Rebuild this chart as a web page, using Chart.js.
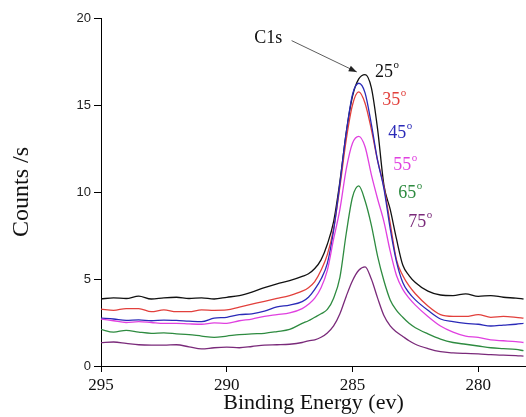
<!DOCTYPE html>
<html><head><meta charset="utf-8">
<script src="https://cdn.jsdelivr.net/npm/chart.js@4"></script>
<style>html,body{margin:0;padding:0;background:#fff;}canvas{display:block;}</style>
</head><body>
<canvas id="c" width="526" height="417"></canvas>
<script>
// ---- data ----
const energies = [295,294.5,294,293.5,293,292.5,292,291.5,291,290.5,290,289.5,289,288.5,288,287.5,287,
  286.75,286.5,286.25,286,285.75,285.5,285.25,285,284.75,284.5,284.25,284,283.75,283.5,283.25,283,282.75,282.5,
  282,281.5,281,280.5,280,279.5,279,278.5,278.2];
const counts25 = [3.85,3.92,3.88,4.02,3.85,3.92,3.95,3.88,3.92,3.85,3.95,4.05,4.25,4.5,4.72,4.9,5.15,
  5.3,5.6,6.1,7.0,8.3,10.6,13.4,15.5,16.5,16.75,16.0,13.6,10.4,9.0,7.3,5.8,5.2,4.8,
  4.3,4.08,4.05,4.15,4.0,4.05,3.95,3.9,3.85];
const counts35 = [3.27,3.2,3.3,3.3,3.12,3.22,3.12,3.12,3.22,3.2,3.22,3.38,3.55,3.72,3.88,4.05,4.3,
  4.5,4.85,5.5,6.4,7.9,10.3,13.0,15.0,15.75,15.1,13.6,11.8,10.3,8.2,6.1,5.2,4.6,4.15,
  3.45,2.95,2.85,2.85,2.95,2.8,2.85,2.8,2.75];
const counts45 = [2.75,2.7,2.62,2.65,2.6,2.64,2.62,2.58,2.55,2.75,2.8,2.95,3.0,3.15,3.4,3.5,3.7,
  3.95,4.4,5.0,5.9,7.8,10.5,13.4,15.6,16.25,15.7,13.9,11.8,10.2,7.9,6.0,4.8,4.2,3.8,
  3.2,2.7,2.55,2.45,2.4,2.3,2.35,2.4,2.45];
const counts55 = [2.7,2.6,2.5,2.55,2.5,2.45,2.45,2.42,2.4,2.48,2.45,2.6,2.7,2.85,2.95,3.05,3.3,
  3.55,3.9,4.5,5.5,7.3,9.0,11.3,12.8,13.2,12.6,11.0,9.6,8.3,6.6,5.2,4.4,3.9,3.5,
  2.85,2.3,1.95,1.72,1.65,1.5,1.45,1.4,1.35];
const counts65 = [2.1,1.95,2.05,1.95,1.88,1.9,1.85,1.8,1.72,1.65,1.72,1.8,1.85,1.88,1.98,2.1,2.45,
  2.6,2.8,3.0,3.25,3.9,5.1,7.6,9.7,10.35,9.5,8.1,6.3,4.9,3.8,3.2,2.8,2.45,2.2,
  1.85,1.55,1.35,1.25,1.15,1.05,1.0,0.95,0.88];
const counts75 = [1.34,1.38,1.3,1.22,1.2,1.2,1.22,1.1,0.98,1.05,1.08,1.05,1.12,1.2,1.22,1.25,1.35,
  1.45,1.5,1.65,1.9,2.3,3.0,4.0,4.9,5.5,5.7,5.0,3.9,2.9,2.3,1.95,1.7,1.45,1.25,
  1.0,0.82,0.75,0.72,0.7,0.65,0.62,0.6,0.57];
const angleLabels = ['25','35','45','55','65','75'];
const xTicks = [295,290,285,280];
const yTicks = [0,5,10,15,20];

// ---- styling ----
const colors = ['#111111','#e2403c','#2a2ab8','#e040e0','#2e8b40','#7a2a7a'];
const series = [counts25,counts35,counts45,counts55,counts65,counts75];
// label anchors in data units (energy, counts)
const labelAnchor = [[284.10,16.9],[283.82,15.29],[283.58,13.39],[283.38,11.55],[283.18,9.94],[282.78,8.28]];
const c1s = {text:[288.35,18.85], from:[287.42,18.7], to:[284.83,16.9]};

const datasets = series.map((vals,i)=>({
  label: angleLabels[i]+'°',
  data: energies.map((e,j)=>({x:e,y:vals[j]})),
  borderColor: colors[i],
  borderWidth: 1.3,
  pointRadius: 0,
  cubicInterpolationMode: 'monotone',
  fill: false
})).reverse();

const annot = {
  id:'annot',
  afterDatasetsDraw(chart){
    const {ctx, scales:{x,y}} = chart;
    ctx.save();
    angleLabels.forEach((t,i)=>{
      const px = x.getPixelForValue(labelAnchor[i][0]);
      const py = y.getPixelForValue(labelAnchor[i][1]);
      ctx.fillStyle = colors[i];
      ctx.font = '18px "Liberation Serif"';
      ctx.textAlign='left'; ctx.textBaseline='middle';
      ctx.fillText(t, px, py);
      const w = ctx.measureText(t).width;
      ctx.font = '11px "Liberation Serif"';
      ctx.fillText('o', px+w+0.5, py-7);
    });
    ctx.fillStyle='#111';
    ctx.font='18px "Liberation Serif"';
    ctx.textAlign='center'; ctx.textBaseline='middle';
    ctx.fillText('C1s', x.getPixelForValue(c1s.text[0]), y.getPixelForValue(c1s.text[1]));
    const x0=x.getPixelForValue(c1s.from[0]), y0=y.getPixelForValue(c1s.from[1]);
    const x1=x.getPixelForValue(c1s.to[0]), y1=y.getPixelForValue(c1s.to[1]);
    ctx.strokeStyle='#333'; ctx.lineWidth=0.8;
    ctx.beginPath(); ctx.moveTo(x0,y0); ctx.lineTo(x1,y1); ctx.stroke();
    const ang=Math.atan2(y1-y0,x1-x0), L=8, H=3;
    ctx.fillStyle='#222';
    ctx.beginPath();
    ctx.moveTo(x1,y1);
    ctx.lineTo(x1-L*Math.cos(ang)+H*Math.sin(ang), y1-L*Math.sin(ang)-H*Math.cos(ang));
    ctx.lineTo(x1-L*Math.cos(ang)-H*Math.sin(ang), y1-L*Math.sin(ang)+H*Math.cos(ang));
    ctx.closePath(); ctx.fill();
    ctx.restore();
  }
};

new Chart(document.getElementById('c'), {
  type:'line',
  data:{datasets},
  options:{
    responsive:false, animation:false, devicePixelRatio:1,
    layout:{padding:{top:18,left:0,right:0,bottom:0}},
    plugins:{legend:{display:false}, tooltip:{enabled:false}},
    scales:{
      x:{type:'linear', reverse:true, min:278.1, max:295,
        afterBuildTicks:s=>{s.ticks=xTicks.map(v=>({value:v}));},
        afterFit:s=>{s.height=51;},
        grid:{drawOnChartArea:false, drawTicks:true, tickLength:6, color:'#000', tickColor:'#000'},
        border:{display:true, color:'#000', width:1},
        ticks:{font:{family:'Liberation Serif', size:17, lineHeight:1}, color:'#111', padding:5, maxRotation:0, autoSkip:false},
        title:{display:true, text:'Binding Energy (ev)', color:'#111', font:{family:'Liberation Serif', size:22, lineHeight:1}, padding:{top:0,bottom:3}}
      },
      y:{type:'linear', min:0, max:20,
        afterBuildTicks:s=>{s.ticks=yTicks.map(v=>({value:v}));},
        afterFit:s=>{s.width=101;},
        grid:{drawOnChartArea:false, drawTicks:true, tickLength:7, color:'#000', tickColor:'#000'},
        border:{display:true, color:'#000', width:1},
        ticks:{font:{family:'Liberation Sans', size:13}, color:'#222', padding:3},
        title:{display:true, text:'Counts /s', color:'#111', font:{family:'Liberation Serif', size:24, lineHeight:1}, padding:{top:10,bottom:0}}
      }
    }
  },
  plugins:[annot]
});
</script>
</body></html>
